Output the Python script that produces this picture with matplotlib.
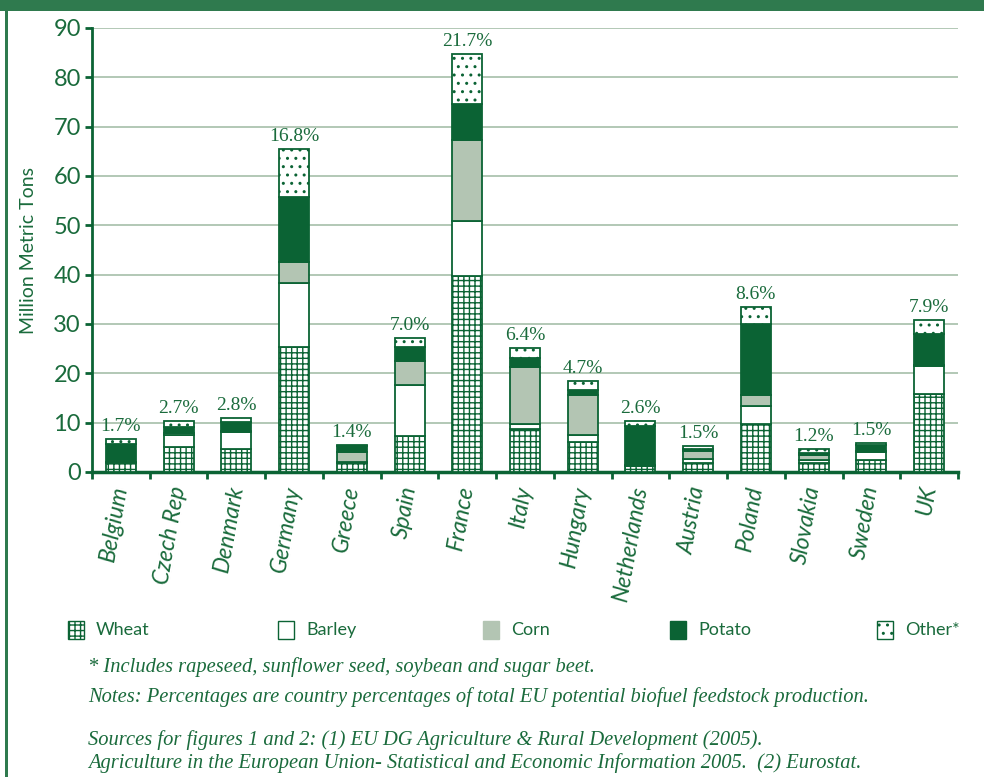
import matplotlib
matplotlib.use('Agg')
import matplotlib.pyplot as plt
import numpy as np
from matplotlib.patches import Rectangle

# Data (million metric tons)
countries = ['Belgium', 'Czech Rep', 'Denmark', 'Germany', 'Greece', 'Spain', 'France',
             'Italy', 'Hungary', 'Netherlands', 'Austria', 'Poland', 'Slovakia', 'Sweden', 'UK']
wheat = [1.9, 5.1, 4.6, 25.4, 1.8, 7.2, 39.8, 8.7, 6.1, 1.2, 1.9, 9.7, 1.8, 2.4, 15.8]
barley = [0.1, 2.4, 3.6, 13.0, 0.2, 10.4, 11.0, 1.0, 1.3, 0.1, 0.8, 3.7, 0.6, 1.7, 5.7]
corn = [0.0, 0.4, 0.1, 4.1, 2.1, 4.8, 16.4, 11.5, 8.3, 0.1, 1.5, 2.2, 1.0, 0.1, 0.1]
potato = [3.7, 1.3, 1.9, 13.3, 1.2, 3.0, 7.4, 1.9, 0.9, 7.9, 0.5, 14.4, 0.5, 1.2, 6.3]
other = [0.9, 1.2, 0.7, 9.7, 0.1, 1.7, 10.1, 2.0, 1.9, 1.0, 0.6, 3.5, 0.7, 0.5, 2.9]
shares = ['1.7%', '2.7%', '2.8%', '16.8%', '1.4%', '7.0%', '21.7%', '6.4%', '4.7%',
          '2.6%', '1.5%', '8.6%', '1.2%', '1.5%', '7.9%']
series_names = ['Wheat', 'Barley', 'Corn', 'Potato', 'Other*']

# Colours
dark = '#0b6334'
txt = '#1a6b3c'
corn_col = '#b3c5b3'
grid_col = '#a6bfa9'
frame_col = '#2f7a4e'

plt.rcParams['hatch.linewidth'] = 1.0

fig = plt.figure(figsize=(9.84, 7.77), dpi=100)

# page decoration: header band and left rule
fig.add_artist(Rectangle((0, 1 - 11 / 777), 1, 11 / 777, transform=fig.transFigure,
                         facecolor=frame_col, edgecolor='none'))
fig.add_artist(Rectangle((5 / 984, 0), 3 / 984, 1, transform=fig.transFigure,
                         facecolor=frame_col, edgecolor='none'))

ax = fig.add_axes([92 / 984, 305 / 777, 866 / 984, 444 / 777])

x = np.arange(len(countries))
styles = [
    dict(facecolor='white', hatch='+++'),
    dict(facecolor='white', hatch=None),
    dict(facecolor=corn_col, hatch=None),
    dict(facecolor=dark, hatch=None),
    dict(facecolor='white', hatch='..'),
]
bottom = np.zeros(len(countries))
for vals, st in zip([wheat, barley, corn, potato, other], styles):
    vals = np.array(vals)
    ax.bar(x, vals, width=0.52, bottom=bottom, edgecolor=dark, linewidth=1.3,
           zorder=3, **st)
    bottom += vals

for xi, tot, s in zip(x, bottom, shares):
    ax.annotate(s, (xi, tot), xytext=(0, 3), textcoords='offset points',
                ha='center', va='bottom', color=txt, fontsize=14,
                family='Liberation Serif')

ax.set_xlim(-0.5, len(countries) - 0.5)
ax.set_ylim(0, 90)
ax.set_yticks(range(0, 91, 10))
ax.yaxis.grid(True, color=grid_col, linewidth=1.2, zorder=0)
ax.set_axisbelow(True)

for side in ['top', 'right']:
    ax.spines[side].set_visible(False)
ax.spines['left'].set_color(dark)
ax.spines['left'].set_linewidth(2)
ax.spines['bottom'].set_color(dark)
ax.spines['bottom'].set_linewidth(2.5)

ax.tick_params(axis='y', colors=dark, labelcolor=txt, length=5, width=2,
               labelsize=17, pad=3)
for lab in ax.get_yticklabels():
    lab.set_family('Lato')

ax.set_xticks(x)
ax.set_xticklabels(countries, rotation=80, rotation_mode='anchor', ha='right',
                   va='center', fontsize=16.5, fontstyle='italic', color=txt,
                   family='Lato')
ax.tick_params(axis='x', length=0, pad=10)
ax.set_xticks(np.arange(-0.5, len(countries)), minor=True)
ax.tick_params(axis='x', which='minor', length=5, width=2, color=dark)

ax.set_ylabel('Million Metric Tons', color=txt, fontsize=14, family='Lato',
              labelpad=12)

# legend row
lx = [68, 278, 483, 670, 877]
for i, (px, name, st) in enumerate(zip(lx, series_names, styles)):
    r = Rectangle((px / 984, 1 - 639 / 777), 16 / 984, 18 / 777,
                  transform=fig.transFigure, edgecolor=dark if i != 2 else corn_col,
                  linewidth=1.0, **st)
    fig.add_artist(r)
    fig.text((px + 28) / 984, 1 - 630 / 777, name, color=txt, fontsize=13,
             family='Lato', va='center', ha='left')

notes = [
    (667, '* Includes rapeseed, sunflower seed, soybean and sugar beet.'),
    (697, 'Notes: Percentages are country percentages of total EU potential biofuel feedstock production.'),
    (740, 'Sources for figures 1 and 2: (1) EU DG Agriculture & Rural Development (2005).'),
    (763, 'Agriculture in the European Union- Statistical and Economic Information 2005.  (2) Eurostat.'),
]
for py, t in notes:
    fig.text(88 / 984, 1 - py / 777, t, color=txt, fontsize=14.8, fontstyle='italic',
             family='Liberation Serif', va='center', ha='left')

fig.savefig('out.png', dpi=100)
